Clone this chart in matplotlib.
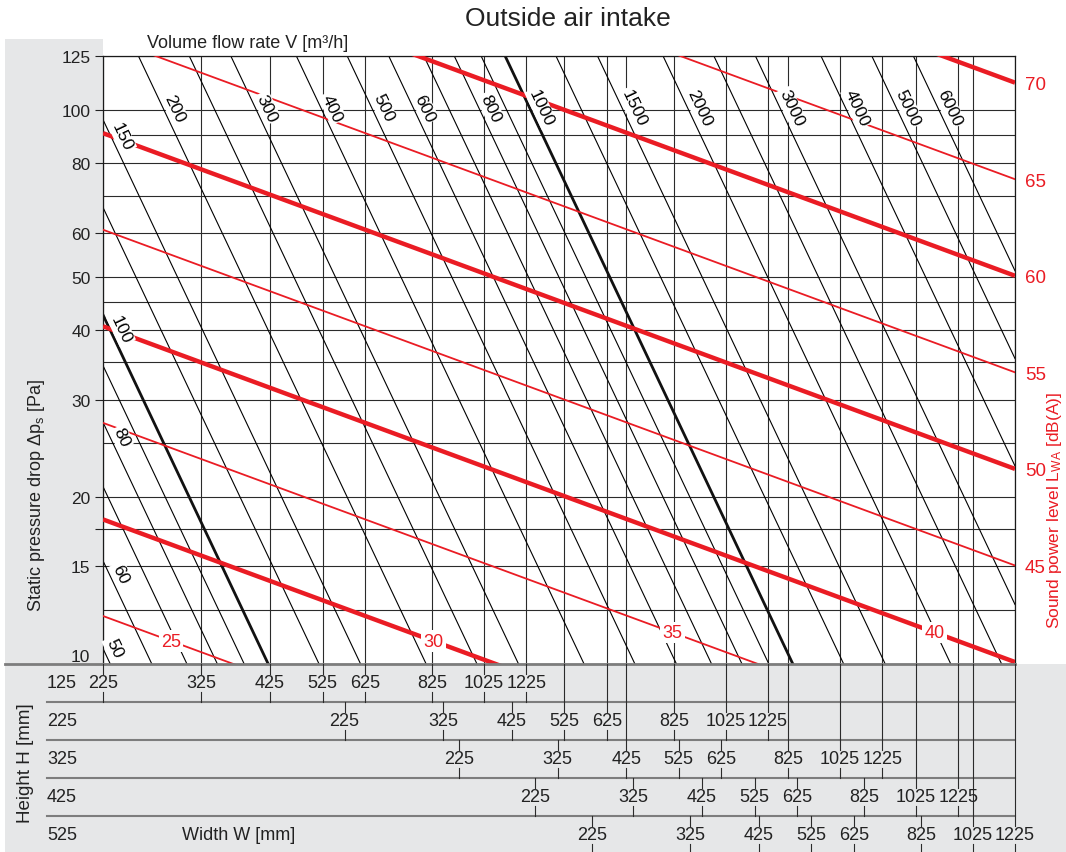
import numpy as np
import matplotlib
matplotlib.use('Agg')
from matplotlib import pyplot as plt
from matplotlib import transforms
from matplotlib.patches import Rectangle
from matplotlib.ticker import NullLocator, FixedLocator

plt.rcParams['font.family'] = ['Liberation Sans', 'DejaVu Sans']
plt.rcParams['mathtext.fontset'] = 'custom'
plt.rcParams['mathtext.rm'] = 'Liberation Sans'
plt.rcParams['mathtext.it'] = 'Liberation Sans:italic'

RED = '#ea1c24'
GRAY_BG = '#e6e7e8'

# static pressure axis [Pa]
dp_ticks = [10, 15, 17.5, 20, 30, 40, 50, 60, 80, 100, 125]
dp_tick_labels = ['10', '15', '', '20', '30', '40', '50', '60', '80', '100', '125']
dp_grid = [10, 12.5, 15, 17.5, 20, 25, 30, 35, 40, 45, 50, 60, 70, 80, 90, 100, 125]

# volume flow lines [m3/h], dp = k_flow * (V / A)^2
flows = [50, 60, 70, 80, 90, 100, 125, 150, 200, 250, 300, 400, 500, 600, 700,
         800, 900, 1000, 1250, 1500, 2000, 2500, 3000, 4000, 5000, 6000]
flows_bold = [100, 1000]
flow_labels = [50, 60, 80, 100, 150, 200, 300, 400, 500, 600, 800, 1000,
               1500, 2000, 3000, 4000, 5000, 6000]
flow_label_dp = [10.5, 14.3, 25.2, 39.5, 88, 99, 99, 99, 99, 99, 99, 99,
                 99, 99, 99, 99, 99, 99]
k_flow = 4.1e-7

# sound power lines [dB(A)], L = L0 + LA*log10(A) + LP*log10(dp)
levels = [25, 30, 35, 40, 45, 50, 55, 60, 65, 70]
levels_inside = [25, 30, 35, 40]
levels_inside_dp = [11.0, 11.0, 11.4, 11.4]
levels_right = [45, 50, 55, 60, 65, 70]
L0, LA, LP = 13.9, 10.0, 28.7

# damper sizes [mm]
heights = [125, 225, 325, 425, 525]
widths = [225, 325, 425, 525, 625, 825, 1025, 1225]
long_lines = {125: widths,
              225: [525, 625, 825, 1025, 1225],
              325: [425, 825, 1025, 1225],
              425: [1025, 1225],
              525: [1025, 1225]}
W_FRAME, H_FRAME = 40, 72


def area(w, h):
    return (w - W_FRAME) * (h - H_FRAME) / 1e6


def sound_dp(level, a):
    return 10 ** ((level - L0 - LA * np.log10(a)) / LP)


def sound_area(level, dp):
    return 10 ** ((level - L0 - LP * np.log10(dp)) / LA)


W, H = 1066, 853
fig = plt.figure(figsize=(W / 100, H / 100), dpi=100)

fig.add_artist(Rectangle((5 / W, 0), 1 - 5 / W, (H - 665) / H, transform=fig.transFigure,
                         fc=GRAY_BG, ec='none', zorder=-5))
fig.add_artist(Rectangle((5 / W, 1 - 665 / H), 98 / W, (665 - 40) / H, transform=fig.transFigure,
                         fc=GRAY_BG, ec='none', zorder=-5))

ax = fig.add_axes([103 / W, 1 - 665 / H, 912 / W, 608 / H])
ax.set_facecolor('white')
ax.set_xscale('log')
ax.set_yscale('log')
xmin, xmax = area(225, 125), area(1225, 525)
ax.set_xlim(xmin, xmax)
ax.set_ylim(10, 125)

for d in dp_grid:
    ax.axhline(d, color='#2b2b2b', lw=0.8, zorder=1)
for h in heights:
    for w in long_lines[h]:
        ax.axvline(area(w, h), color='#2b2b2b', lw=0.8, zorder=1)

A = np.array([xmin, xmax])
for v in flows:
    if v in flows_bold:
        ax.plot(A, k_flow * (v / A) ** 2, color='#111111', lw=2.0, zorder=2)
    else:
        ax.plot(A, k_flow * (v / A) ** 2, color='black', lw=0.8, zorder=2)

for lv in levels:
    if lv % 10 == 0:
        ax.plot(A, sound_dp(lv, A), color=RED, lw=3.2, zorder=3, solid_capstyle='butt')
    else:
        ax.plot(A, sound_dp(lv, A), color=RED, lw=1.3, zorder=3)

# angle of the flow lines on screen
p1 = ax.transData.transform((xmin, k_flow * (1000 / xmin) ** 2))
p2 = ax.transData.transform((xmax, k_flow * (1000 / xmax) ** 2))
ang = np.degrees(np.arctan2(p2[1] - p1[1], p2[0] - p1[0]))
off = 7.5
ox = off * -np.sin(np.radians(ang))
oy = off * np.cos(np.radians(ang))

for v, d in zip(flow_labels, flow_label_dp):
    a = v * np.sqrt(k_flow / d)
    ax.annotate(str(v), xy=(a, d), xytext=(ox, oy), textcoords='offset points',
                rotation=ang, rotation_mode='anchor', ha='center', va='center',
                fontsize=12.5, zorder=6,
                bbox=dict(boxstyle='square,pad=0.08', fc='white', ec='none'))

for lv, d in zip(levels_inside, levels_inside_dp):
    ax.text(sound_area(lv, d), d, str(lv), color=RED, ha='center', va='center',
            fontsize=13, zorder=6,
            bbox=dict(boxstyle='square,pad=0.12', fc='white', ec='none'))

ax.yaxis.set_major_locator(FixedLocator(dp_ticks))
ax.set_yticklabels(dp_tick_labels)
ax.yaxis.set_minor_locator(NullLocator())
ax.xaxis.set_major_locator(NullLocator())
ax.xaxis.set_minor_locator(NullLocator())
ax.tick_params(axis='y', length=6, width=0.8, pad=3, labelsize=12.5, colors='#222222')
for lab in ax.get_yticklabels():
    if lab.get_text() == '10':
        lab.set_va('bottom')
ax.spines['bottom'].set_visible(False)
for s in ['left', 'top', 'right']:
    ax.spines[s].set_linewidth(0.9)
    ax.spines[s].set_color('#1a1a1a')

ax2 = ax.twinx()
ax2.set_yscale('log')
ax2.set_ylim(10, 125)
ax2.yaxis.set_major_locator(FixedLocator([sound_dp(lv, xmax) for lv in levels_right]))
ax2.set_yticklabels([str(lv) for lv in levels_right])
ax2.yaxis.set_minor_locator(NullLocator())
ax2.tick_params(axis='y', length=0, pad=7, labelsize=13.5, labelcolor=RED)
for s in ax2.spines.values():
    s.set_visible(False)

# size table below the chart
tab = fig.add_axes([103 / W, 0, 912 / W, (H - 665) / H])
tab.set_xscale('log')
tab.set_xlim(xmin, xmax)
tab.set_ylim(-0.5 + (H - 665) / 38, -0.5)
tab.axis('off')
blend = transforms.blended_transform_factory(fig.transFigure, tab.transData)

tab.plot([5 / W, 1015 / W], [-0.5, -0.5], transform=blend, color='#7d7d7d', lw=2.0, clip_on=False)
for yb in [0.5, 1.5, 2.5, 3.5]:
    tab.plot([47 / W, 1015 / W], [yb, yb], transform=blend, color='#7d7d7d', lw=1.5, clip_on=False)

for i, h in enumerate(heights):
    tab.text(47 / W, i, str(h), transform=blend, ha='left', va='center', fontsize=13, color='#222222')
    for w in widths:
        x = area(w, h)
        tab.text(x, i, str(w), ha='center', va='center', fontsize=13, color='#222222')
        if w in long_lines[h]:
            tab.plot([x, x], [-0.5, i - 0.24], color='#2b2b2b', lw=0.8, clip_on=False)
        else:
            tab.plot([x, x], [i - 0.5, i - 0.24], color='#2b2b2b', lw=0.8, clip_on=False)
        tab.plot([x, x], [i + 0.24, min(i + 0.5, 4.42)], color='#2b2b2b', lw=0.8, clip_on=False)

tab.text(182 / W, 4, 'Width W [mm]', transform=blend, ha='left', va='center', fontsize=13, color='#222222')
fig.text(26 / W, 1 - 763 / H, 'Height H [mm]', rotation=90, ha='center', va='center',
         fontsize=13.5, color='#222222')

fig.text(568 / W, 1 - 19 / H, 'Outside air intake', ha='center', va='center', fontsize=19, color='#222222')
fig.text(147 / W, 1 - 43 / H, 'Volume flow rate V [m³/h]', ha='left', va='center', fontsize=13, color='#222222')
fig.text(37 / W, 1 - 496 / H, 'Static pressure drop Δp$_\\mathrm{s}$ [Pa]', rotation=90,
         ha='center', va='center', fontsize=13, color='#222222')
fig.text(1055 / W, 1 - 510 / H, 'Sound power level L$_\\mathrm{WA}$ [dB(A)]', rotation=90,
         ha='center', va='center', fontsize=12.5, color=RED)

fig.savefig('out.png', dpi=100)
